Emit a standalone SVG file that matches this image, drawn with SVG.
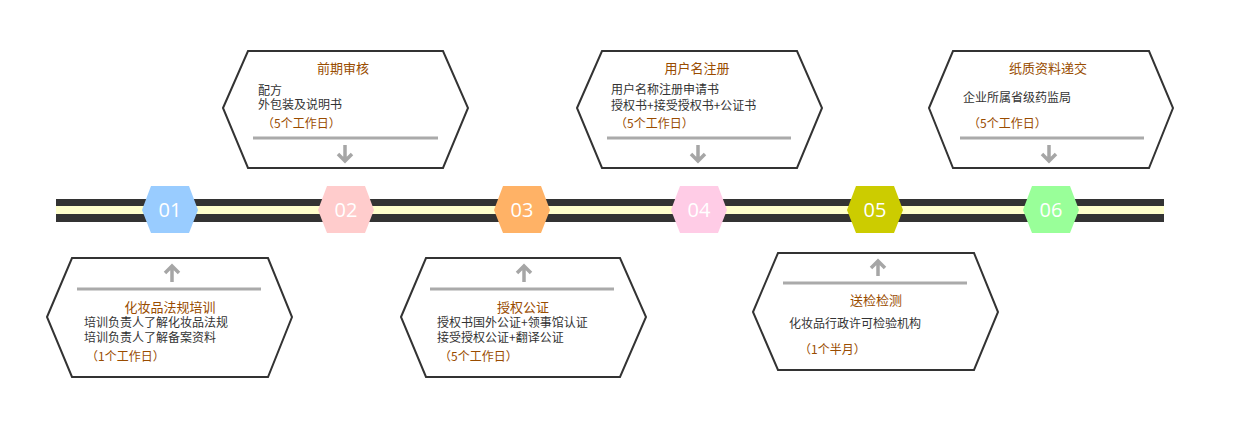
<svg xmlns="http://www.w3.org/2000/svg" width="1236" height="438" viewBox="0 0 1236 438">
<style>
.box{fill:#fff;stroke:#333;stroke-width:2}
.sep{stroke:#aaa;stroke-width:3}
.arr{fill:none;stroke:#a6a6a6;stroke-width:3.5}
.tt{font-family:"Noto Sans CJK SC",sans-serif;font-size:13px;fill:#994c00;text-anchor:middle}
.bd{font-family:"Noto Sans CJK SC",sans-serif;font-size:12px;fill:#333}
.dy{font-family:"Noto Sans CJK SC",sans-serif;font-size:12px;fill:#994c00}
.num{font-family:"Open Sans","DejaVu Sans",sans-serif;font-size:20px;fill:#fff;text-anchor:middle}
</style>
<rect width="1236" height="438" fill="#fff"/>
<g id="timeline">
<rect x="56" y="199" width="1108" height="23" fill="#333"/>
<rect x="56" y="206" width="1108" height="8" fill="#ffffcc"/>
</g>
<g id="h01"><polygon points="142,210 151,186 189,186 198,210 189,233 151,233" fill="#99ccff"/><text class="num" x="170" y="217">01</text></g>
<g id="h02"><polygon points="318,210 327,186 365,186 374,210 365,233 327,233" fill="#ffcccc"/><text class="num" x="346" y="217">02</text></g>
<g id="h03"><polygon points="494,210 503,186 541,186 550,210 541,233 503,233" fill="#ffb266"/><text class="num" x="522" y="217">03</text></g>
<g id="h04"><polygon points="671,210 680,186 718,186 727,210 718,233 680,233" fill="#ffcce6"/><text class="num" x="699" y="217">04</text></g>
<g id="h05"><polygon points="847,210 856,186 894,186 903,210 894,233 856,233" fill="#cccc00"/><text class="num" x="875" y="217">05</text></g>
<g id="h06"><polygon points="1023,210 1032,186 1070,186 1079,210 1070,233 1032,233" fill="#99ff99"/><text class="num" x="1051" y="217">06</text></g>

<g id="box-qianqi">
<polygon class="box" points="223,108 248,51 443,51 468,108 443,168 248,168"/>
<text class="tt" x="343" y="73">前期审核</text>
<text class="bd" x="258" y="95">配方</text>
<text class="bd" x="258" y="109">外包装及说明书</text>
<text class="dy" x="262" y="128">（5个工作日）</text>
<line class="sep" x1="253" y1="138" x2="438" y2="138"/>
<path class="arr" d="M345,145 V161 M338,154 L345,161 L352,154"/>
</g>
<g id="box-yonghu">
<polygon class="box" points="577,108 602,51 797,51 822,108 797,168 602,168"/>
<text class="tt" x="697" y="73">用户名注册</text>
<text class="bd" x="611" y="94">用户名称注册申请书</text>
<text class="bd" x="611" y="110">授权书+接受授权书+公证书</text>
<text class="dy" x="615" y="128">（5个工作日）</text>
<line class="sep" x1="607" y1="138" x2="791" y2="138"/>
<path class="arr" d="M698,145 V161 M691,154 L698,161 L705,154"/>
</g>
<g id="box-zhizhi">
<polygon class="box" points="929,108 953,51 1149,51 1173,108 1149,168 953,168"/>
<text class="tt" x="1048" y="73">纸质资料递交</text>
<text class="bd" x="963" y="102">企业所属省级药监局</text>
<text class="dy" x="968" y="128">（5个工作日）</text>
<line class="sep" x1="960" y1="138" x2="1144" y2="138"/>
<path class="arr" d="M1049,145 V161 M1042,154 L1049,161 L1056,154"/>
</g>
<g id="box-peixun">
<polygon class="box" points="47,317 72,258 268,258 292,317 268,377 72,377"/>
<path class="arr" d="M172,282 V266 M165,273 L172,266 L179,273"/>
<line class="sep" x1="77" y1="289" x2="261" y2="289"/>
<text class="tt" x="170" y="312">化妆品法规培训</text>
<text class="bd" x="84" y="327">培训负责人了解化妆品法规</text>
<text class="bd" x="84" y="342">培训负责人了解备案资料</text>
<text class="dy" x="86" y="361">（1个工作日）</text>
</g>
<g id="box-gongzheng">
<polygon class="box" points="401,317 426,258 620,258 646,317 620,377 426,377"/>
<path class="arr" d="M524,282 V266 M517,273 L524,266 L531,273"/>
<line class="sep" x1="430" y1="289" x2="614" y2="289"/>
<text class="tt" x="523" y="312">授权公证</text>
<text class="bd" x="437" y="327">授权书国外公证+领事馆认证</text>
<text class="bd" x="437" y="342">接受授权公证+翻译公证</text>
<text class="dy" x="439" y="361">（5个工作日）</text>
</g>
<g id="box-songjian">
<polygon class="box" points="753,312 778,253 974,253 998,312 974,370 778,370"/>
<path class="arr" d="M878,276 V261 M871,268 L878,261 L885,268"/>
<line class="sep" x1="783" y1="283" x2="967" y2="283"/>
<text class="tt" x="876" y="305">送检检测</text>
<text class="bd" x="789" y="328">化妆品行政许可检验机构</text>
<text class="dy" x="799" y="354">（1个半月）</text>
</g>
<g id="connectors"></g>
</svg>
